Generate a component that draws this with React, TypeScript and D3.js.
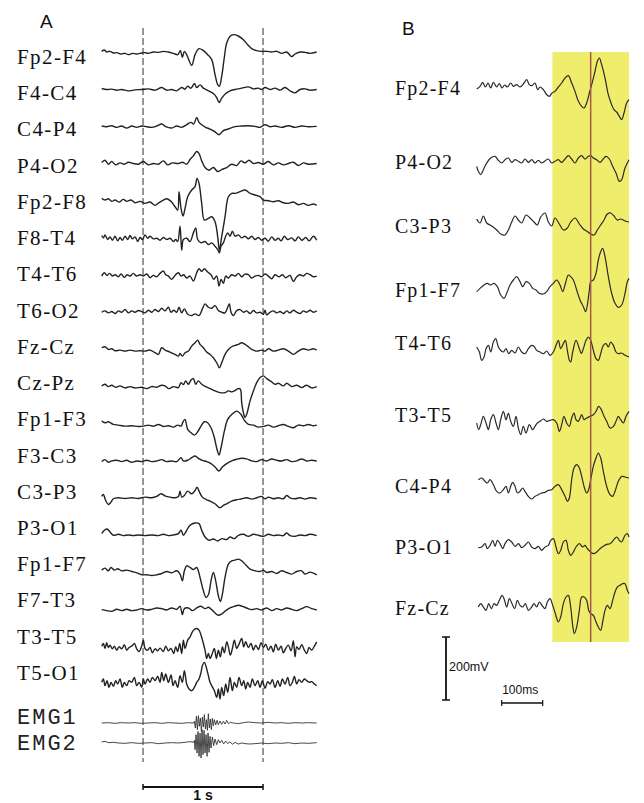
import React, { useRef, useEffect } from 'react';
import * as d3 from 'd3';

// montage A — bipolar channels, top to bottom
const labelsA = ['Fp2-F4', 'F4-C4', 'C4-P4', 'P4-O2', 'Fp2-F8', 'F8-T4', 'T4-T6', 'T6-O2', 'Fz-Cz',
  'Cz-Pz', 'Fp1-F3', 'F3-C3', 'C3-P3', 'P3-O1', 'Fp1-F7', 'F7-T3', 'T3-T5', 'T5-O1'];
const labelsEmg = ['EMG1', 'EMG2'];
// montage B
const labelsB = ['Fp2-F4', 'P4-O2', 'C3-P3', 'Fp1-F7', 'T4-T6', 'T3-T5', 'C4-P4', 'P3-O1', 'Fz-Cz'];

// A traces: [sample @360Hz, amplitude uV]
const fp2F4A = [[0,2],[8,6],[15,0],[25,2],[35,-3],[45,-2],[58,-6],[70,-4],[80,-8],[92,-4],[105,-6],[120,-3],[130,-2],[140,-4],[155,0],[170,-1],[185,2],[200,0],[215,-4],[228,-8],[236,4],[242,-16],[248,2],[255,-8],[270,-40],[280,-8],[292,10],[305,4],[318,-8],[330,-23],[340,-68],[348,-98],[353,-103],[360,-73],[367,-23],[375,27],[385,47],[395,52],[410,48],[425,37],[438,22],[450,10],[465,4],[480,2],[495,2],[510,0],[525,2],[540,-4],[555,0],[570,-14],[580,-6],[595,0],[610,-1],[625,-4],[645,0]];
const f4C4A = [[0,2],[15,-1],[30,0],[45,-3],[60,-1],[80,-5],[100,-2],[120,-1],[140,1],[160,-3],[180,5],[195,-3],[210,-1],[225,-5],[240,5],[250,0],[258,9],[268,3],[278,17],[285,5],[295,13],[305,3],[320,-5],[335,-13],[345,-25],[352,-40],[360,-27],[372,-13],[385,-5],[400,-1],[420,3],[440,7],[455,1],[470,3],[480,-1],[490,5],[505,-1],[520,3],[535,-3],[550,5],[565,-5],[580,-11],[595,-1],[610,1],[625,-3],[645,-1]];
const c4P4A = [[0,1],[15,-1],[30,2],[45,-3],[60,1],[75,-5],[90,1],[105,-3],[120,1],[135,-1],[150,-3],[165,1],[180,7],[192,-1],[210,-5],[225,1],[240,-3],[255,5],[268,12],[276,7],[285,27],[292,12],[300,5],[312,-3],[325,-8],[338,-15],[352,-25],[365,-13],[380,-8],[400,-1],[420,1],[440,2],[460,0],[475,-3],[490,5],[505,-1],[520,1],[540,-3],[560,2],[580,-3],[600,1],[620,-1],[645,0]];
const p4O2A = [[0,3],[10,10],[20,-2],[30,6],[42,-4],[55,2],[68,-2],[80,4],[95,0],[110,-2],[125,6],[140,-4],[155,0],[170,-2],[185,8],[198,-4],[212,2],[230,0],[242,4],[255,-2],[265,12],[275,23],[285,36],[292,30],[300,8],[310,-12],[322,-20],[335,-12],[348,-24],[360,-18],[375,-12],[390,-2],[405,-6],[418,8],[430,2],[442,10],[455,0],[470,3],[485,-2],[500,6],[515,-4],[530,2],[545,-4],[560,0],[575,4],[590,-6],[605,2],[620,-2],[645,0]];
const fp2F8A = [[0,7],[10,2],[20,6],[30,-2],[40,2],[52,-4],[65,4],[75,-2],[88,2],[100,-6],[115,-2],[130,-8],[145,-4],[160,-14],[172,-6],[185,2],[195,6],[208,-2],[220,-18],[228,-28],[232,27],[238,-23],[244,-46],[250,-23],[258,12],[270,32],[280,42],[286,67],[292,52],[300,-8],[308,-58],[320,-53],[330,-48],[340,-63],[348,-108],[353,-148],[360,-108],[370,-48],[380,12],[390,22],[400,22],[415,27],[430,32],[445,22],[460,17],[475,12],[485,2],[500,0],[515,-3],[530,0],[545,-6],[560,-8],[575,-4],[590,-12],[605,-8],[620,-14],[635,-10],[645,-14]];
const f8T4A = [[0,7],[5,0],[10,9],[18,-5],[25,3],[32,-7],[40,5],[48,-9],[55,1],[62,-7],[70,5],[78,-5],[85,7],[92,-3],[100,3],[108,-11],[115,1],[122,-5],[130,9],[138,-1],[145,5],[155,-3],[165,-1],[175,-7],[185,1],[195,-5],[205,-1],[215,-11],[222,-5],[228,-11],[235,35],[240,-37],[245,-5],[255,-1],[265,-11],[275,15],[282,30],[288,-5],[298,-15],[310,-11],[320,-20],[330,-15],[340,-25],[348,-35],[353,-45],[358,-25],[365,-15],[372,5],[378,15],[385,5],[392,20],[400,5],[410,9],[420,0],[430,5],[440,-3],[450,5],[460,-5],[470,1],[480,-7],[490,-1],[500,-10],[510,3],[520,-7],[530,-1],[538,-9],[548,5],[558,-5],[570,0],[580,-9],[590,3],[600,-7],[612,1],[622,-9],[635,5],[645,-7]];
const t4T6A = [[0,-3],[8,7],[16,-1],[24,5],[32,-3],[40,1],[50,-5],[58,3],[68,-7],[76,1],[85,-3],[95,5],[105,-3],[115,1],[125,-3],[135,3],[145,-8],[155,-1],[165,-5],[175,5],[185,12],[192,1],[200,-3],[210,-13],[220,-1],[230,7],[238,-3],[246,1],[255,-9],[265,-3],[275,-18],[285,7],[292,19],[300,11],[308,19],[318,9],[328,1],[336,-13],[345,-3],[352,-33],[358,-13],[365,-25],[372,-3],[380,-9],[390,1],[400,-3],[410,5],[420,-5],[430,3],[440,1],[450,-9],[460,-3],[470,-1],[480,-5],[490,3],[500,-3],[510,-11],[520,1],[532,-5],[542,1],[552,-8],[565,-1],[575,-19],[585,-5],[595,1],[605,-3],[615,5],[625,1],[635,-5],[645,-3]];
const t6O2A = [[0,0],[10,4],[20,-2],[30,2],[40,-4],[50,4],[60,0],[70,8],[80,-2],[90,4],[100,0],[110,5],[120,2],[130,-2],[140,6],[150,0],[160,8],[170,2],[180,12],[190,4],[200,15],[208,0],[216,6],[225,0],[232,15],[240,-2],[248,10],[258,-6],[270,-10],[280,-5],[292,-10],[302,10],[310,25],[320,15],[330,12],[340,20],[350,5],[360,0],[370,-2],[378,15],[383,25],[388,0],[395,-10],[405,5],[415,8],[425,0],[435,4],[445,-4],[455,5],[465,-2],[475,0],[485,-6],[490,6],[495,-8],[505,0],[515,4],[525,-2],[535,2],[545,-4],[555,4],[565,-2],[575,6],[585,0],[595,-4],[605,4],[615,0],[625,6],[635,0],[645,4]];
const fzCzA = [[0,5],[10,8],[20,0],[30,2],[40,-4],[55,-2],[70,-5],[85,-2],[100,-5],[115,-4],[130,-5],[145,-2],[160,-10],[170,-15],[180,5],[190,-2],[205,-8],[220,-15],[230,-20],[235,-12],[242,-20],[250,-10],[260,-5],[270,10],[280,20],[288,28],[295,15],[305,5],[315,-8],[325,-15],[335,-25],[345,-40],[353,-55],[360,-40],[370,-15],[380,0],[390,8],[400,12],[410,15],[420,20],[430,15],[440,8],[450,0],[465,-5],[480,-2],[490,-5],[500,2],[515,-5],[530,-2],[545,2],[560,-5],[575,-15],[590,-5],[605,2],[620,-2],[635,2],[645,-2]];
const czPzA = [[0,2],[10,7],[20,0],[30,4],[42,-2],[55,2],[70,-4],[85,0],[100,-4],[120,-2],[135,-6],[150,0],[165,-2],[180,4],[190,2],[202,-6],[215,0],[230,-3],[238,12],[245,6],[252,17],[260,7],[268,20],[275,24],[282,7],[290,17],[300,7],[312,0],[325,-6],[340,-13],[355,-18],[370,-18],[380,-13],[390,-16],[400,-12],[410,-6],[416,-8],[420,-48],[425,-78],[430,-93],[435,-83],[445,-43],[455,-13],[465,12],[475,27],[485,32],[495,24],[510,14],[520,7],[530,10],[545,2],[555,10],[570,0],[585,4],[600,-3],[615,4],[630,-4],[645,0]];
const fp1F3A = [[0,8],[10,3],[20,6],[35,-2],[50,-4],[70,-7],[90,-6],[110,-8],[125,-7],[140,-4],[155,-7],[170,-2],[185,-8],[200,-6],[215,-10],[228,-4],[238,-7],[244,6],[250,13],[258,-17],[268,-27],[278,-34],[288,-24],[298,-7],[308,6],[318,3],[328,-12],[338,-42],[346,-77],[352,-94],[358,-72],[368,-22],[378,13],[390,28],[405,38],[418,28],[428,10],[440,-2],[455,-4],[470,-10],[485,-8],[500,-4],[515,-10],[530,-6],[545,-2],[560,-8],[575,-12],[590,-4],[605,-6],[620,-2],[635,-6],[645,-4]];
const f3C3A = [[0,-2],[10,4],[20,-4],[30,0],[45,2],[60,-2],[75,2],[90,-4],[105,0],[120,-2],[135,2],[150,-2],[165,0],[180,4],[195,-2],[210,0],[225,-2],[238,10],[245,0],[258,2],[270,10],[280,15],[290,8],[302,2],[315,-2],[328,-8],[340,-18],[352,-30],[362,-18],[375,-8],[390,0],[405,5],[420,8],[435,6],[450,0],[465,-2],[480,4],[495,0],[510,6],[525,2],[540,0],[555,4],[570,-2],[585,0],[600,6],[615,0],[630,2],[645,0]];
const c3P3A = [[0,5],[5,11],[12,-7],[20,-19],[28,-12],[35,-2],[50,1],[70,-1],[90,1],[110,-1],[130,3],[150,1],[165,5],[178,13],[190,7],[205,3],[220,1],[230,5],[235,21],[240,3],[248,8],[258,21],[270,13],[280,23],[286,33],[292,21],[302,3],[315,-5],[325,-9],[340,-17],[355,-29],[365,-22],[375,-17],[390,-9],[405,-5],[420,-2],[435,1],[450,-3],[465,1],[480,5],[490,-2],[500,3],[515,-2],[530,1],[545,-2],[555,8],[565,1],[580,-2],[595,1],[610,-3],[625,1],[645,-2]];
const p3O1A = [[0,5],[8,15],[16,19],[25,10],[35,0],[50,3],[65,-1],[80,1],[95,-1],[110,1],[130,-1],[150,1],[170,-1],[185,3],[200,-1],[215,1],[230,5],[238,15],[245,0],[255,15],[265,30],[280,37],[292,35],[300,15],[310,-5],[322,-15],[335,-11],[348,-17],[360,-10],[375,-13],[385,-5],[398,-10],[410,0],[425,3],[440,-3],[455,3],[470,0],[485,-3],[500,3],[515,-1],[530,1],[545,-1],[555,7],[565,-1],[580,-3],[595,1],[610,-1],[625,3],[645,-1]];
const fp1F7A = [[0,7],[10,13],[20,5],[28,15],[38,7],[48,11],[60,5],[75,7],[90,3],[105,-1],[120,-7],[135,-7],[150,-9],[165,-7],[180,-3],[195,3],[210,-1],[225,5],[235,-5],[242,-25],[248,5],[255,20],[265,15],[275,9],[285,15],[295,-15],[305,-55],[313,-75],[320,-67],[328,-25],[335,0],[342,-25],[350,-70],[356,-87],[362,-65],[370,-15],[380,25],[390,35],[400,37],[410,40],[420,35],[432,23],[445,10],[460,5],[475,3],[485,7],[495,0],[510,3],[525,-3],[540,5],[555,0],[570,-5],[585,3],[600,5],[610,-5],[625,1],[645,-7]];
const f7T3A = [[0,0],[15,-3],[30,-5],[45,1],[60,-3],[75,1],[90,-3],[105,-1],[120,3],[135,-1],[150,1],[165,5],[180,3],[195,-1],[210,5],[225,1],[235,10],[242,-15],[248,3],[260,5],[272,-3],[285,5],[298,10],[310,3],[320,7],[330,0],[340,-10],[350,-17],[360,-13],[372,-3],[385,5],[398,10],[410,13],[422,10],[435,5],[450,0],[465,3],[480,-1],[495,5],[510,-3],[525,3],[540,-1],[555,5],[570,1],[585,-3],[600,3],[615,9],[630,3],[645,-1]];
const t3T5A = [[0,2],[5,10],[10,-5],[15,12],[20,-2],[25,5],[32,-6],[38,2],[45,-10],[52,0],[60,-6],[68,6],[75,-10],[82,-2],[90,2],[98,10],[105,-6],[112,-14],[120,2],[125,20],[130,-5],[138,-10],[145,-2],[152,-18],[160,-6],[168,-12],[175,-4],[185,-14],[192,2],[200,-12],[208,-5],[216,-20],[222,0],[228,-14],[234,10],[240,-20],[245,20],[250,-5],[258,20],[265,30],[272,45],[278,52],[285,55],[292,50],[298,35],[305,10],[310,-10],[315,-35],[320,-20],[325,-35],[330,-25],[338,-5],[344,-35],[350,-10],[356,-30],[362,0],[368,-18],[375,15],[380,0],[386,-25],[392,-5],[398,20],[405,-5],[412,8],[420,25],[426,0],[432,15],[440,-2],[448,10],[455,-10],[462,5],[470,-8],[478,12],[485,-2],[492,8],[500,-10],[508,2],[515,-15],[522,8],[530,-10],[538,2],[545,-18],[552,-5],[560,5],[568,-12],[575,18],[580,-30],[585,0],[592,-8],[600,6],[608,-10],[615,-20],[622,-2],[630,-10],[638,2],[645,15]];
const t5O1A = [[0,5],[5,15],[10,-5],[16,10],[22,-10],[28,5],[35,-7],[42,10],[48,0],[55,15],[62,-10],[68,5],[75,-5],[82,10],[90,5],[98,20],[105,-5],[112,5],[120,-10],[125,15],[130,0],[138,15],[145,5],[152,20],[160,10],[168,23],[175,5],[180,35],[186,10],[192,30],[200,5],[208,27],[214,-5],[220,10],[228,-10],[235,25],[242,5],[248,40],[255,0],[262,-15],[270,-20],[278,-10],[285,5],[292,15],[298,35],[302,55],[308,65],[315,45],[320,25],[325,5],[330,-5],[338,-20],[345,-40],[350,-15],[355,-45],[360,-10],[366,-35],[372,0],[378,-25],[385,20],[392,-20],[398,5],[405,-10],[412,20],[420,-5],[426,10],[432,-15],[438,5],[445,-10],[452,15],[460,-5],[468,10],[475,-10],[482,10],[490,-13],[498,7],[505,0],[512,13],[520,-10],[528,10],[535,-7],[542,15],[550,0],[558,20],[565,-5],[572,5],[578,23],[585,0],[592,13],[600,5],[608,15],[615,10],[622,5],[630,7],[638,0],[645,-5]];
const emg1 = [[0,0],[20,1],[40,-1],[60,1],[80,0],[100,1],[120,-1],[140,0],[160,1],[180,-1],[200,1],[220,0],[240,-1],[260,1],[275,0],[278,5],[281,-15],[284,20],[287,-20],[290,22],[293,-10],[296,15],[299,-25],[302,18],[305,-12],[308,25],[311,-18],[314,10],[317,-22],[320,28],[323,-15],[326,12],[329,-20],[332,14],[335,-8],[338,10],[342,-6],[346,8],[350,-5],[355,6],[360,-4],[365,5],[370,-3],[375,8],[380,-2],[386,2],[395,0],[410,-2],[425,1],[440,3],[460,1],[480,0],[500,2],[520,0],[540,1],[560,-1],[580,1],[600,0],[620,1],[645,0]];
const emg2 = [[0,3],[10,5],[20,1],[35,2],[50,0],[70,-1],[90,1],[110,-1],[130,0],[150,1],[170,-2],[190,0],[210,1],[230,0],[250,2],[265,4],[275,2],[278,8],[280,-20],[283,25],[286,-30],[289,35],[292,-40],[295,30],[298,-45],[301,40],[304,-35],[307,38],[310,-30],[313,25],[316,-40],[319,30],[322,-28],[325,20],[328,-15],[332,18],[336,-8],[340,12],[345,-5],[350,10],[355,0],[360,8],[366,-3],[372,6],[378,-2],[385,4],[392,-4],[400,2],[410,-3],[420,0],[430,-2],[445,-3],[460,-2],[480,0],[500,-2],[520,0],[540,-1],[560,1],[580,-2],[600,0],[620,-1],[645,1]];
const tracesA = [fp2F4A, f4C4A, c4P4A, p4O2A, fp2F8A, f8T4A, t4T6A, t6O2A, fzCzA, czPzA, fp1F3A, f3C3A, c3P3A, p3O1A, fp1F7A, f7T3A, t3T5A, t5O1A];
const tracesEmg = [emg1, emg2];
const markersA = [124, 484]; // 1 s apart

// B traces: [sample, amplitude]
const fp2F4B = [[0,-3],[10,5],[18,17],[26,3],[34,15],[42,0],[50,17],[60,3],[68,13],[76,0],[84,9],[92,3],[102,15],[110,5],[120,10],[130,3],[142,15],[150,25],[158,10],[166,7],[175,15],[183,-5],[190,3],[200,-5],[210,-20],[218,-25],[226,-15],[235,-10],[245,3],[255,15],[265,30],[275,37],[285,15],[295,-10],[305,-40],[315,-55],[322,-60],[330,-45],[338,-15],[345,10],[355,50],[362,80],[368,90],[375,70],[385,30],[395,-20],[405,-50],[412,-65],[420,-72],[428,-85],[435,-95],[442,-75],[450,-45],[457,-35]];
const p4O2B = [[0,-10],[5,-25],[12,-35],[20,-20],[30,0],[42,15],[55,20],[65,8],[75,0],[85,10],[95,15],[105,2],[115,10],[125,5],[135,0],[145,12],[155,2],[165,10],[175,0],[185,8],[195,0],[205,6],[215,12],[225,0],[235,5],[245,10],[255,2],[265,12],[275,22],[285,12],[295,0],[305,15],[315,22],[325,12],[335,20],[342,22],[350,15],[360,10],[370,2],[378,10],[388,20],[398,12],[408,-10],[418,-30],[428,-55],[435,-50],[445,-15],[457,10]];
const c3P3B = [[0,18],[10,6],[20,27],[30,6],[45,-3],[60,-15],[72,-27],[85,-30],[95,-15],[105,9],[115,27],[125,15],[135,6],[148,30],[160,21],[172,9],[182,0],[192,24],[205,36],[215,9],[225,-3],[235,21],[248,3],[260,-15],[272,-9],[282,9],[295,21],[308,3],[320,-12],[330,-18],[342,-27],[352,-30],[362,-15],[372,0],[382,15],[392,33],[402,36],[412,27],[422,15],[432,18],[445,12],[457,9]];
const fp1F7B = [[0,-5],[10,5],[22,15],[32,20],[42,15],[52,20],[62,10],[72,-15],[82,-25],[90,-10],[100,15],[110,30],[120,40],[130,25],[138,10],[148,25],[158,20],[168,5],[178,0],[188,-10],[200,-12],[210,-5],[220,10],[230,20],[240,30],[250,15],[258,-5],[265,15],[275,45],[282,40],[290,30],[300,0],[310,-30],[320,-50],[327,-65],[332,-45],[338,0],[342,25],[350,30],[358,50],[365,90],[372,115],[378,125],[385,100],[395,40],[405,-10],[415,-40],[425,-52],[435,-45],[445,-10],[452,25],[457,35]];
const t4T6B = [[0,15],[8,0],[15,-25],[22,-15],[28,10],[35,20],[42,0],[50,30],[57,40],[65,15],[72,5],[80,0],[88,10],[96,-5],[105,5],[115,-3],[125,15],[135,0],[145,-5],[155,10],[165,20],[172,17],[180,5],[190,0],[200,-5],[210,3],[220,-10],[230,0],[238,20],[245,35],[252,10],[260,25],[266,35],[272,5],[278,-25],[282,-30],[288,0],[298,35],[308,10],[314,-5],[320,10],[328,35],[335,45],[342,35],[350,5],[358,-20],[365,-25],[372,-5],[380,20],[388,25],[395,15],[402,30],[410,20],[418,0],[425,-5],[435,-3],[445,-10],[457,-15]];
const t3T5B = [[0,0],[6,-20],[12,-5],[20,20],[28,0],[35,-20],[42,10],[50,25],[58,0],[65,-20],[72,10],[80,35],[88,10],[95,30],[102,5],[110,-10],[118,20],[125,-15],[132,-35],[140,-10],[148,-30],[158,-5],[168,-20],[175,-10],[182,0],[190,5],[200,12],[210,5],[220,8],[230,10],[240,0],[248,-25],[255,-5],[262,20],[270,0],[278,-10],[285,15],[292,30],[298,10],[305,5],[315,25],[322,10],[330,15],[340,20],[350,25],[358,35],[366,50],[374,40],[382,20],[390,5],[400,-15],[410,-10],[418,5],[425,20],[432,10],[440,0],[448,20],[457,35]];
const c4P4B = [[5,10],[15,15],[25,5],[32,0],[40,10],[50,-5],[60,-25],[70,-30],[80,-20],[88,-10],[95,-30],[102,-10],[108,2],[115,-10],[122,-30],[130,-25],[138,-15],[145,-25],[155,-40],[165,-48],[175,-40],[185,-35],[195,-30],[205,-28],[215,-22],[225,-20],[235,-10],[245,-5],[255,-20],[265,-40],[272,-55],[278,-45],[285,10],[292,45],[300,55],[308,45],[315,20],[322,-10],[330,-30],[336,-20],[342,10],[350,50],[358,75],[365,90],[372,75],[380,35],[390,-10],[400,-35],[408,-40],[415,-25],[425,5],[435,20],[445,18],[457,15]];
const p3O1B = [[5,-2],[15,0],[25,10],[32,-5],[40,5],[48,20],[55,2],[62,20],[70,10],[78,-5],[85,10],[95,22],[105,15],[115,2],[125,10],[135,-2],[145,5],[155,15],[165,0],[175,-5],[185,2],[195,-10],[205,0],[215,5],[222,20],[230,25],[238,0],[245,-20],[252,-10],[260,15],[268,20],[275,-10],[282,-25],[290,-15],[298,0],[308,10],[318,0],[325,5],[332,-5],[342,-15],[350,-20],[360,-15],[370,-5],[380,2],[390,8],[400,10],[410,20],[420,30],[428,20],[435,15],[445,35],[452,40],[457,30]];
const fzCzB = [[5,0],[12,10],[20,0],[28,-10],[36,10],[44,-5],[52,10],[60,5],[68,20],[76,35],[82,25],[90,0],[98,25],[106,10],[114,-5],[122,20],[130,5],[138,0],[146,10],[155,-10],[165,0],[172,10],[180,0],[188,15],[196,5],[205,-5],[212,15],[220,25],[228,5],[236,-20],[245,-45],[252,-30],[260,10],[268,30],[275,35],[282,0],[288,-55],[293,-80],[300,-60],[308,-10],[315,30],[322,30],[330,20],[336,-10],[342,-20],[350,-25],[358,-45],[365,-60],[372,-70],[378,-45],[385,-10],[392,5],[400,-5],[408,20],[415,45],[422,60],[430,65],[438,70],[445,70],[452,50],[457,40]];
const tracesB = [fp2F4B, p4O2B, c3P3B, fp1F7B, t4T6B, t3T5B, c4P4B, p3O1B, fzCzB];
const windowB = [227, 457]; // highlighted segment
const cursorB = 342;

// layout (px)
const rowsB = [88, 163, 225, 290, 352, 423, 483, 547, 607];
const labelRowsB = [88, 162, 226, 290, 343, 415, 486, 547, 608];

const serif = '"Liberation Serif", "Times New Roman", serif';
const sans = '"Liberation Sans", Arial, sans-serif';

export default function App() {
  const ref = useRef<SVGSVGElement>(null);

  useEffect(() => {
    const svg = d3.select(ref.current);
    svg.selectAll('*').remove();

    // ---------- panel A ----------
    const xA = d3.scaleLinear().domain([0, 645]).range([101.7, 316.7]);
    const ampA = d3.scaleLinear().domain([-300, 300]).range([100, -100]);
    const rowA = d3.scalePoint<string>().domain(labelsA).range([52, 684]);
    const labA = d3.scalePoint<string>().domain(labelsA).range([57, 673]);
    const rowEmg = d3.scalePoint<string>().domain(labelsEmg).range([723, 743]);
    const labEmg = d3.scalePoint<string>().domain(labelsEmg).range([717, 743]);

    const gA = svg.append('g');

    gA.append('text').attr('x', 40).attr('y', 28)
      .attr('font-family', sans).attr('font-size', 19).attr('fill', '#111').text('A');

    // dashed markers
    gA.selectAll('line.mark').data(markersA).enter().append('line')
      .attr('x1', d => xA(d)).attr('x2', d => xA(d))
      .attr('y1', 28).attr('y2', 762)
      .attr('stroke', '#444').attr('stroke-width', 1.1)
      .attr('stroke-dasharray', '7 3');

    const lineA = (base: number) => d3.line<number[]>()
      .x(d => xA(d[0]))
      .y(d => base + ampA(d[1]))
      .curve(d3.curveCatmullRom.alpha(0.5));

    labelsA.forEach((name, i) => {
      gA.append('path')
        .attr('d', lineA(rowA(name)!)(tracesA[i]))
        .attr('fill', 'none').attr('stroke', '#222').attr('stroke-width', 1.4)
        .attr('stroke-linejoin', 'round');
      gA.append('text')
        .attr('x', 17).attr('y', labA(name)!).attr('dy', '0.33em')
        .attr('font-family', serif).attr('font-size', 21).attr('letter-spacing', 1.4)
        .attr('fill', '#111').text(name);
    });

    labelsEmg.forEach((name, i) => {
      const base = rowEmg(name)!;
      gA.append('path')
        .attr('d', d3.line<number[]>().x(d => xA(d[0])).y(d => base + ampA(d[1]))(tracesEmg[i]))
        .attr('fill', 'none').attr('stroke', '#333').attr('stroke-width', 0.9);
      gA.append('text')
        .attr('x', 17).attr('y', labEmg(name)!).attr('dy', '0.33em')
        .attr('font-family', '"Liberation Mono", "Courier New", monospace')
        .attr('font-size', 22).attr('letter-spacing', 2)
        .attr('fill', '#222').text(name);
    });

    // 1 s bar
    const barY = 787;
    const [m0, m1] = markersA.map(m => xA(m));
    gA.append('line').attr('x1', m0).attr('x2', m1).attr('y1', barY).attr('y2', barY)
      .attr('stroke', '#111').attr('stroke-width', 2);
    [m0, m1].forEach(x => gA.append('line').attr('x1', x).attr('x2', x)
      .attr('y1', barY - 3).attr('y2', barY + 3).attr('stroke', '#111').attr('stroke-width', 1.5));
    gA.append('text').attr('x', (m0 + m1) / 2).attr('y', 800).attr('text-anchor', 'middle')
      .attr('font-family', sans).attr('font-size', 14).attr('font-weight', 'bold')
      .attr('fill', '#111').text('1 s');

    // ---------- panel B ----------
    const xB = d3.scaleLinear().domain([0, 457]).range([476.7, 629]);
    const ampB = d3.scaleLinear().domain([-300, 300]).range([100, -100]);
    const gB = svg.append('g');

    gB.append('text').attr('x', 402).attr('y', 35)
      .attr('font-family', sans).attr('font-size', 19).attr('fill', '#111').text('B');

    gB.append('rect')
      .attr('x', xB(windowB[0])).attr('width', xB(windowB[1]) - xB(windowB[0]))
      .attr('y', 52).attr('height', 590)
      .attr('fill', '#f1ed6c');

    const lineB = (base: number) => d3.line<number[]>()
      .x(d => xB(d[0]))
      .y(d => base + ampB(d[1]))
      .curve(d3.curveCatmullRom.alpha(0.5));

    labelsB.forEach((name, i) => {
      gB.append('path')
        .attr('d', lineB(rowsB[i])(tracesB[i]))
        .attr('fill', 'none').attr('stroke', '#2a2a2a').attr('stroke-width', 1.2)
        .attr('stroke-linejoin', 'round');
      gB.append('text')
        .attr('x', 395).attr('y', labelRowsB[i]).attr('dy', '0.33em')
        .attr('font-family', serif).attr('font-size', 20).attr('letter-spacing', 1.2)
        .attr('fill', '#111').text(name);
    });

    gB.append('line')
      .attr('x1', xB(cursorB)).attr('x2', xB(cursorB))
      .attr('y1', 52).attr('y2', 642)
      .attr('stroke', '#a65a46').attr('stroke-width', 1.5);

    // 200mV bar (189 units = 63 px)
    const vx = 446, vTop = 637;
    const vBot = vTop + (ampB(-189) - ampB(0));
    gB.append('line').attr('x1', vx).attr('x2', vx).attr('y1', vTop).attr('y2', vBot)
      .attr('stroke', '#111').attr('stroke-width', 1.8);
    [vTop, vBot].forEach(y => gB.append('line').attr('x1', vx - 4).attr('x2', vx + 4)
      .attr('y1', y).attr('y2', y).attr('stroke', '#111').attr('stroke-width', 1.5));
    gB.append('text').attr('x', 449).attr('y', 671)
      .attr('font-family', sans).attr('font-size', 12.5).attr('fill', '#111').text('200mV');

    // 100ms bar (123 samples)
    const h0 = xB(75), h1 = xB(75 + 123), hy = 703;
    gB.append('line').attr('x1', h0).attr('x2', h1).attr('y1', hy).attr('y2', hy)
      .attr('stroke', '#111').attr('stroke-width', 1.5);
    [h0, h1].forEach(x => gB.append('line').attr('x1', x).attr('x2', x)
      .attr('y1', hy - 3).attr('y2', hy + 3).attr('stroke', '#111').attr('stroke-width', 1.2));
    gB.append('text').attr('x', (h0 + h1) / 2 - 2).attr('y', 694).attr('text-anchor', 'middle')
      .attr('font-family', sans).attr('font-size', 12).attr('fill', '#111').text('100ms');
  }, []);

  return (
    <div style={{ position: 'absolute', top: 0, left: 0, background: '#fff' }}>
      <svg ref={ref} width={644} height={803} />
    </div>
  );
}
